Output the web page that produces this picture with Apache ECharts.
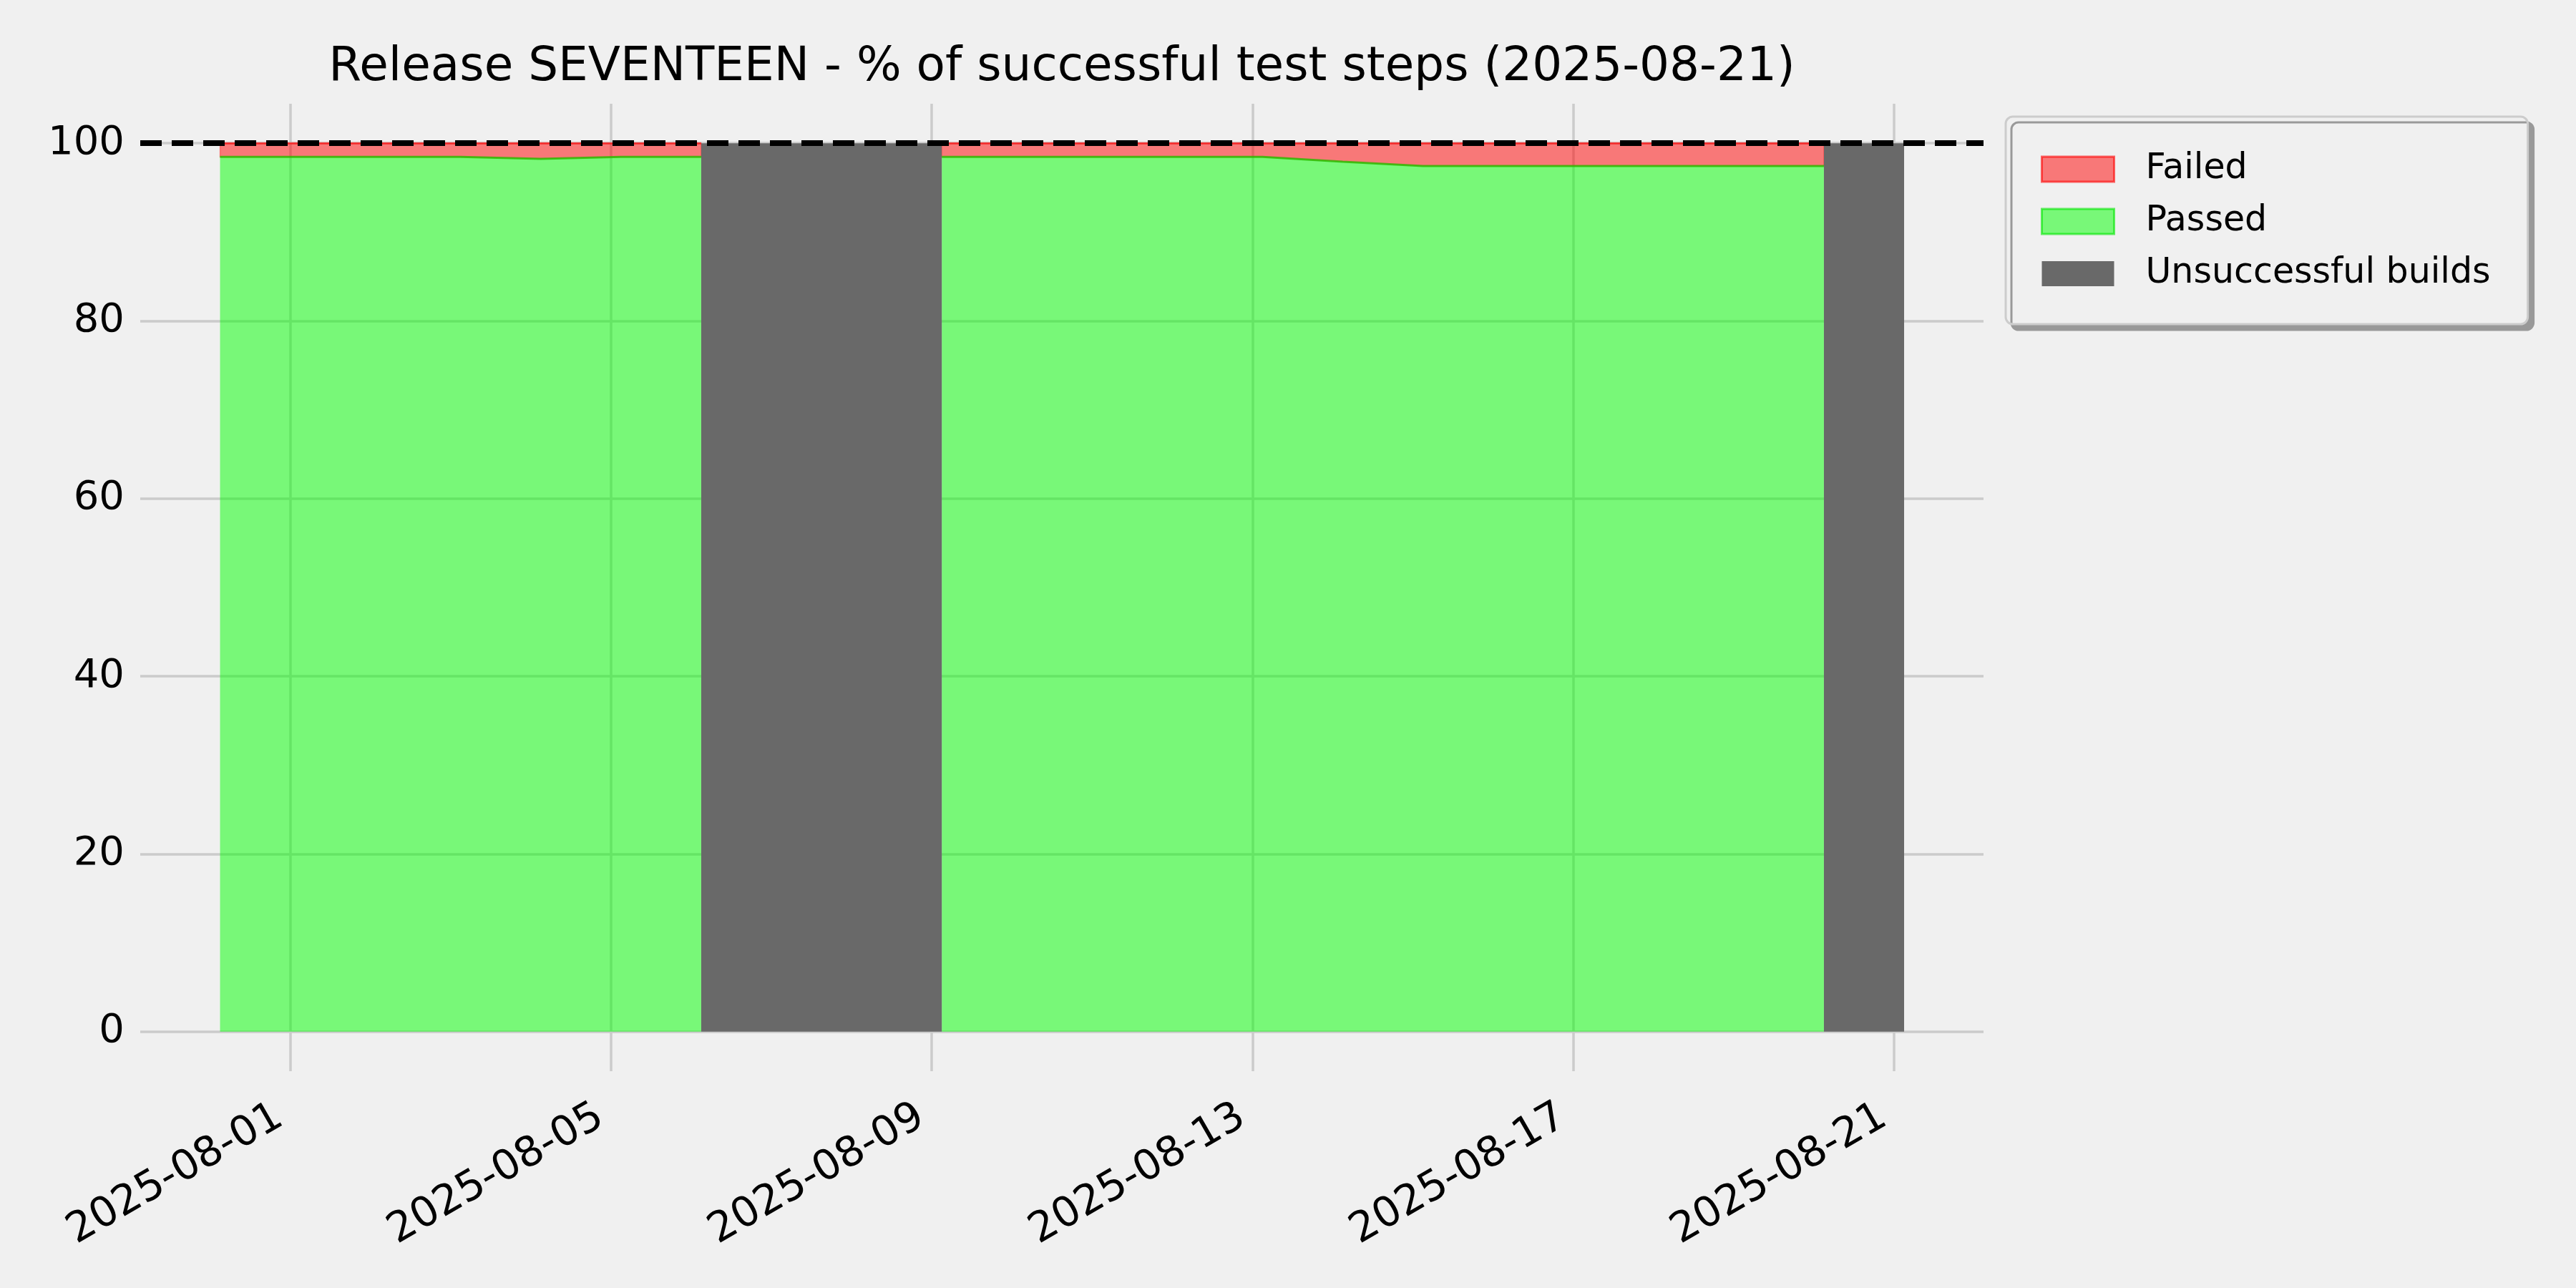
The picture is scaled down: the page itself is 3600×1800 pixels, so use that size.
<!DOCTYPE html>
<html>
<head>
<meta charset="utf-8">
<script src="https://cdn.jsdelivr.net/npm/echarts@6/dist/echarts.min.js"></script>
<style>
html,body{margin:0;padding:0;background:#f0f0f0;}
#chart{width:3600px;height:1800px;}
</style>
</head>
<body>
<div id="chart"></div>
<script>
// ---- data ----
const buildTimes = [
  '2025-07-31 03:00','2025-08-01 03:00','2025-08-02 03:00','2025-08-03 03:00',
  '2025-08-04 03:00','2025-08-05 03:00','2025-08-06 03:00','2025-08-07 03:00',
  '2025-08-08 03:00','2025-08-09 03:00','2025-08-10 03:00','2025-08-11 03:00',
  '2025-08-12 03:00','2025-08-13 03:00','2025-08-14 03:00','2025-08-15 03:00',
  '2025-08-16 03:00','2025-08-17 03:00','2025-08-18 03:00','2025-08-19 03:00',
  '2025-08-20 03:00','2025-08-21 03:00'
];
const passedPct = [98.47, 98.47, 98.47, 98.47, 98.25, 98.47, 98.47, null, null, 98.47, 98.47,
                   98.47, 98.47, 98.47, 97.93, 97.45, 97.45, 97.45, 97.45, 97.45, 97.45, null];
const failedPct = [1.53, 1.53, 1.53, 1.53, 1.75, 1.53, 1.53, null, null, 1.53, 1.53,
                   1.53, 1.53, 1.53, 2.07, 2.55, 2.55, 2.55, 2.55, 2.55, 2.55, null];
const unsuccessfulPct = [0, 0, 0, 0, 0, 0, 100, 100, 100, 0, 0,
                         0, 0, 0, 0, 0, 0, 0, 0, 0, 100, 100];
const targetPct = 100;
const yTickValues = [0, 20, 40, 60, 80, 100];
const xTickDates = ['2025-08-01','2025-08-05','2025-08-09','2025-08-13','2025-08-17','2025-08-21'];
const xRange = ['2025-07-30 03:07', '2025-08-22 02:46'];
const yRange = [-4.45, 104.45];
const seriesNames = ['Failed', 'Passed', 'Unsuccessful builds'];
const titleText = 'Release SEVENTEEN - % of successful test steps (2025-08-21)';

// ---- helpers ----
function toMs(s) {
  const parts = s.split(' ');
  const d = parts[0].split('-').map(Number);
  let h = 0, mi = 0;
  if (parts[1]) { const tm = parts[1].split(':').map(Number); h = tm[0]; mi = tm[1]; }
  return new Date(d[0], d[1] - 1, d[2], h, mi).getTime();
}
function fmtDate(v) {
  const d = new Date(v);
  const p = (n) => (n < 10 ? '0' : '') + n;
  return d.getFullYear() + '-' + p(d.getMonth() + 1) + '-' + p(d.getDate());
}
const times = buildTimes.map(toMs);
const xTicks = xTickDates.map(toMs);
const pairs = (vals) => times.map((t, i) => [t, vals[i]]);

// contiguous runs of days that have test results (for the stacked "Failed" band)
const runs = [];
(function () {
  let cur = null;
  passedPct.forEach((p, i) => {
    if (p != null && failedPct[i] != null) {
      if (!cur) { cur = [i, i]; runs.push(cur); } else { cur[1] = i; }
    } else { cur = null; }
  });
})();

function renderFailedBand(params, api) {
  const r = runs[params.dataIndex];
  const lower = [], upper = [];
  for (let i = r[0]; i <= r[1]; i++) {
    lower.push(api.coord([times[i], passedPct[i]]));
    upper.push(api.coord([times[i], passedPct[i] + failedPct[i]]));
  }
  const topLine = upper.slice();
  const pts = lower.concat(upper.slice().reverse());
  return {
    type: 'group',
    children: [
      {type: 'polygon', shape: {points: pts}, style: {fill: 'rgba(255,0,0,0.5)', stroke: 'rgba(255,0,0,0.35)', lineWidth: 1.5}},
      {type: 'polyline', shape: {points: topLine}, style: {stroke: 'rgba(255,0,0,0.55)', lineWidth: 3, fill: null}}
    ]
  };
}

const FONT = 'DejaVu Sans';
const chart = echarts.init(document.getElementById('chart'), null, {renderer: 'canvas'});

chart.setOption({
  animation: false,
  backgroundColor: '#f0f0f0',
  title: {
    text: titleText,
    left: 1484,
    textAlign: 'center',
    top: 62,
    padding: 0,
    textStyle: {fontSize: 66, fontWeight: 'normal', color: '#000', fontFamily: FONT}
  },
  legend: {
    orient: 'vertical',
    left: 2803,
    top: 163,
    selectedMode: false,
    padding: [49, 52, 46, 49],
    itemWidth: 101,
    itemHeight: 35,
    itemGap: 24,
    backgroundColor: '#f0f0f0',
    borderColor: '#cccccc',
    borderWidth: 3,
    borderRadius: 10,
    shadowColor: '#999999',
    shadowOffsetX: 8,
    shadowOffsetY: 8,
    shadowBlur: 0,
    textStyle: {fontSize: 49, color: '#000', fontFamily: FONT, padding: [0, 0, 0, 39]},
    data: [
      {name: seriesNames[0], icon: 'rect', itemStyle: {color: 'rgba(255,0,0,0.5)', borderColor: 'rgba(255,0,0,0.6)', borderWidth: 3}},
      {name: seriesNames[1], icon: 'rect', itemStyle: {color: 'rgba(0,255,0,0.5)', borderColor: 'rgba(0,230,0,0.6)', borderWidth: 3}},
      {name: seriesNames[2], icon: 'rect', itemStyle: {color: '#696969', borderWidth: 0}}
    ]
  },
  grid: {
    left: 196, right: 828, top: 145, bottom: 303,
    outerBoundsMode: 'none'
  },
  xAxis: {
    type: 'value',
    min: toMs(xRange[0]),
    max: toMs(xRange[1]),
    axisLine: {show: false},
    axisTick: {show: false, customValues: xTicks},
    axisLabel: {
      customValues: xTicks,
      rotate: 30,
      margin: 85,
      verticalAlign: 'bottom',
      fontSize: 58,
      color: '#000',
      fontFamily: FONT,
      hideOverlap: false,
      formatter: fmtDate
    },
    splitLine: {show: true, lineStyle: {color: '#cbcbcb', width: 3.5}}
  },
  yAxis: {
    type: 'value',
    min: yRange[0],
    max: yRange[1],
    axisLine: {show: false},
    axisTick: {show: false, customValues: yTickValues},
    axisLabel: {customValues: yTickValues, fontSize: 56, color: '#000', margin: 22, padding: [10, 0, 0, 0], fontFamily: FONT},
    splitLine: {show: true, lineStyle: {color: '#cbcbcb', width: 3.5}}
  },
  series: [
    {
      name: seriesNames[0],
      type: 'custom',
      renderItem: renderFailedBand,
      data: runs.map((r) => [times[r[0]], targetPct]),
      encode: {x: 0, y: 1},
      clip: true,
      z: 2,
      itemStyle: {color: 'rgba(255,0,0,0.5)'}
    },
    {
      name: seriesNames[1],
      type: 'line',
      data: pairs(passedPct),
      symbol: 'none',
      connectNulls: false,
      z: 2,
      itemStyle: {color: 'rgba(0,255,0,0.5)'},
      lineStyle: {color: 'rgba(40,190,0,0.8)', width: 3},
      areaStyle: {color: 'rgba(0,255,0,0.5)', opacity: 1}
    },
    {
      name: seriesNames[2],
      type: 'line',
      step: 'end',
      data: pairs(unsuccessfulPct),
      symbol: 'none',
      z: 3,
      itemStyle: {color: '#696969'},
      lineStyle: {width: 0, color: '#696969'},
      areaStyle: {color: '#696969', opacity: 1}
    },
    {
      name: 'target',
      type: 'line',
      data: [],
      z: 10,
      markLine: {
        silent: true,
        symbol: 'none',
        label: {show: false},
        lineStyle: {color: '#000', width: 8, type: [30, 14]},
        data: [{yAxis: targetPct}]
      }
    }
  ]
});
</script>
</body>
</html>
